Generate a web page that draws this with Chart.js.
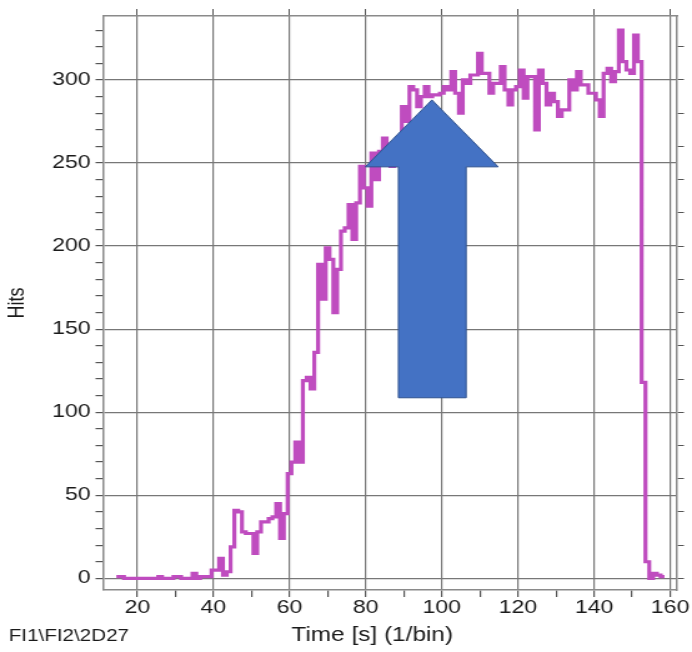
<!DOCTYPE html>
<html>
<head>
<meta charset="utf-8">
<script src="https://cdn.jsdelivr.net/npm/chart.js@4.4.1/dist/chart.umd.min.js"></script>
<style>
  html, body { margin: 0; padding: 0; background: #fff; overflow: hidden; }
  /* the reference is stretched sideways, so draw narrow and scale up */
  #wrap { width: 554px; height: 652px; transform: scaleX(1.2491); transform-origin: 0 0; }
</style>
</head>
<body>
<div id="wrap"><canvas id="chart"></canvas></div>
<script>
// 1 s bins, first bin starts at 14.5 s
const binStart = 14.5;
const binWidth = 1;
const hits = [
  1, 1, 0, 0, 0, 0, 0, 0, 0, 0, 0, 1, 0, 0, 0, 1, 1, 0, 0, 0, 3, 0, 1, 1, 1,
  5, 5, 12, 2, 4, 19, 41, 40, 28, 27, 27, 15, 28, 34, 34, 36, 37, 45, 24, 39,
  63, 70, 82, 70, 119, 121, 114, 136, 189, 168, 199, 192, 160, 186, 209, 211, 225, 204, 226, 248,
  235, 224, 256, 240, 257, 265, 255, 248, 262, 265, 284, 275, 296, 294, 284, 290, 296, 290, 291, 291,
  292, 296, 294, 305, 292, 280, 300, 298, 303, 303, 316, 304, 304, 292, 298, 298, 308, 294, 285, 294,
  296, 306, 289, 302, 302, 270, 306, 298, 285, 292, 287, 278, 282, 282, 300, 294, 305, 297, 297, 292,
  292, 288, 278, 304, 307, 299, 305, 330, 311, 306, 304, 327, 311,
  118, 10, 0, 3, 2, 1
];

const xTicks = [20, 30, 40, 50, 60, 70, 80, 90, 100, 110, 120, 130, 140, 150, 160];
const xLabels = [20, 40, 60, 80, 100, 120, 140, 160];
const yTicks = [0, 10, 20, 30, 40, 50, 60, 70, 80, 90, 100, 110, 120, 130, 140, 150, 160,
  170, 180, 190, 200, 210, 220, 230, 240, 250, 260, 270, 280, 290, 300, 310, 320, 330];
const yLabels = [0, 50, 100, 150, 200, 250, 300];

// blue arrow drawn over the plot, in data units (time, hits)
const arrowShape = [
  [97.4, 288], [114.8, 247.7], [106.4, 247.7], [106.4, 108.7],
  [88.6, 108.7], [88.6, 247.7], [79.9, 247.7]
];

const points = hits.map((v, i) => ({ x: binStart + i * binWidth, y: v }));
points.push({ x: binStart + hits.length * binWidth, y: hits[hits.length - 1] });

const gridColor = "#777";
const frameColor = "#8a8a8a";
const tickColor = "#555";
const textColor = "#1a1a1a";
const family = "'Liberation Sans', Arial, sans-serif";
const font = { family, size: 18.5 };

Chart.defaults.font.family = family;

const hide = "rgba(0,0,0,0)";
const useTicks = list => axis => { axis.ticks = list.map(v => ({ value: v })); };

const extras = {
  id: "extras",
  beforeDraw(chart) {
    const ctx = chart.ctx;
    ctx.save();
    ctx.fillStyle = "#fff";
    ctx.fillRect(0, 0, chart.width, chart.height);
    ctx.restore();
  },
  afterDatasetsDraw(chart) {
    const { ctx, scales: { x, y } } = chart;
    ctx.save();
    ctx.beginPath();
    arrowShape.forEach(([t, h], i) => {
      const px = x.getPixelForValue(t), py = y.getPixelForValue(h);
      if (i === 0) ctx.moveTo(px, py); else ctx.lineTo(px, py);
    });
    ctx.closePath();
    ctx.fillStyle = "#4472C4";
    ctx.fill();
    ctx.strokeStyle = "#2F528F";
    ctx.lineWidth = 1;
    ctx.stroke();
    ctx.restore();
  },
  afterDraw(chart) {
    const ctx = chart.ctx;
    ctx.save();
    ctx.fillStyle = textColor;
    ctx.textBaseline = "middle";
    ctx.textAlign = "left";
    ctx.font = `16.5px ${family}`;
    ctx.fillText("FI1\\FI2\\2D27", 7, 636);
    ctx.font = `19.5px ${family}`;
    ctx.textAlign = "center";
    ctx.fillText("Time [s] (1/bin)", 298, 636);
    ctx.restore();
  }
};

new Chart(document.getElementById("chart"), {
  type: "line",
  data: {
    datasets: [{
      data: points,
      borderColor: "#BF4CBF",
      borderWidth: 3.2,
      stepped: true,
      pointRadius: 0,
      fill: false
    }]
  },
  options: {
    responsive: true,
    maintainAspectRatio: false,
    animation: false,
    layout: { padding: 0 },
    plugins: { legend: { display: false }, tooltip: { enabled: false } },
    scales: {
      x: {
        type: "linear", position: "bottom", min: 11, max: 161.8,
        afterBuildTicks: useTicks(xTicks),
        afterFit: a => { a.height = 62; },
        ticks: { autoSkip: false, maxRotation: 0, padding: 0, color: textColor, font,
          callback: v => xLabels.includes(v) ? String(v) : "" },
        grid: { color: c => c.tick && xLabels.includes(c.tick.value) ? gridColor : hide,
          tickColor, tickLength: 7, lineWidth: 1.2 },
        border: { color: frameColor, width: 1.5 }
      },
      x2: {
        type: "linear", position: "top", min: 11, max: 161.8,
        afterBuildTicks: useTicks(xLabels),
        afterFit: a => { a.height = 16; },
        ticks: { callback: () => "" },
        grid: { drawOnChartArea: false, tickColor, tickLength: 7 },
        border: { color: frameColor, width: 1.5 }
      },
      y: {
        type: "linear", position: "left", min: -7, max: 338.5,
        afterBuildTicks: useTicks(yTicks),
        afterFit: a => { a.width = 82.5; },
        ticks: { autoSkip: false, padding: 4, color: textColor, font,
          callback: v => yLabels.includes(v) ? String(v) : "" },
        grid: { color: c => c.tick && yLabels.includes(c.tick.value) ? gridColor : hide,
          tickColor, tickLength: 6, lineWidth: 1.2 },
        border: { color: frameColor, width: 1.5 },
        title: { display: true, text: "Hits", color: textColor, font: { family, size: 18 }, padding: { top: 3, bottom: 0 } }
      },
      y2: {
        type: "linear", position: "right", min: -7, max: 338.5,
        afterBuildTicks: useTicks(yTicks),
        afterFit: a => { a.width = 12; },
        ticks: { callback: () => "" },
        grid: { drawOnChartArea: false, tickColor, tickLength: 5.5 },
        border: { color: frameColor, width: 1.5 }
      }
    }
  },
  plugins: [extras]
});
</script>
</body>
</html>
